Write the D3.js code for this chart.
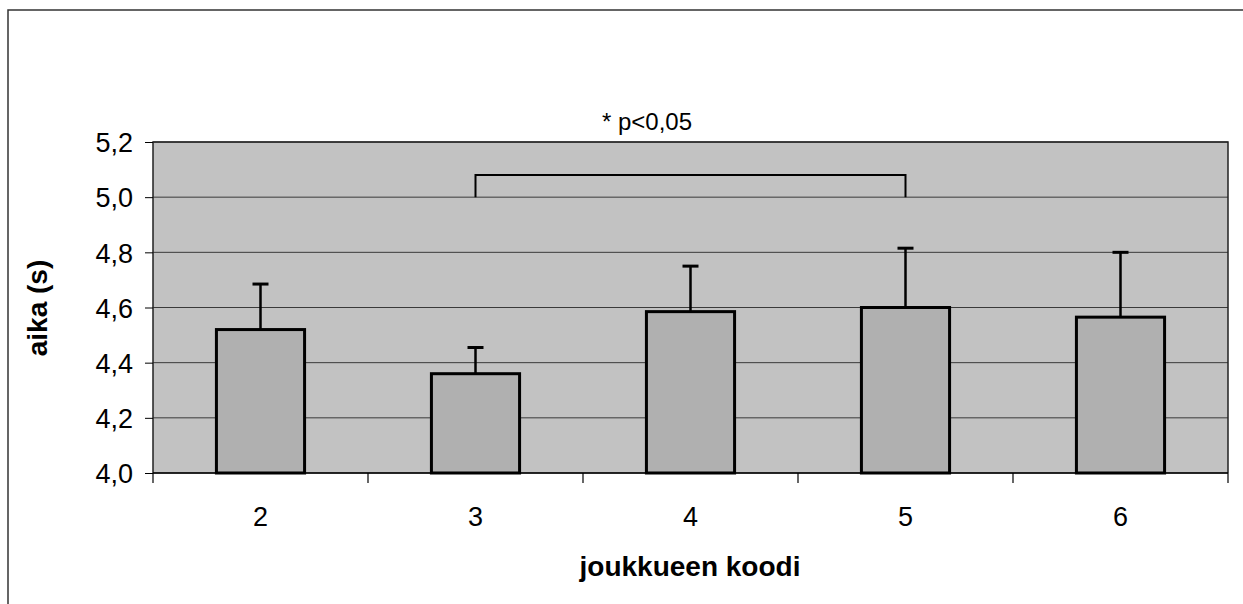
<!DOCTYPE html>
<html>
<head>
<meta charset="utf-8">
<script src="https://cdn.jsdelivr.net/npm/d3@7"></script>
<style>
  body { margin: 0; background: #fff; }
  text { font-family: Arial, "Liberation Sans", sans-serif; fill: #000; }
</style>
</head>
<body>
<svg id="chart" width="1243" height="604"></svg>
<script>
"use strict";
// data
const categories = ["2", "3", "4", "5", "6"];
const means = [4.52, 4.36, 4.585, 4.60, 4.565];
const errors = [0.165, 0.095, 0.165, 0.215, 0.235];
const yTicks = [4.0, 4.2, 4.4, 4.6, 4.8, 5.0, 5.2];
const bracketFrom = "3", bracketTo = "5", bracketLevel = 5.08, bracketFoot = 5.0;
const noteText = "* p<0,05";

const svg = d3.select("#chart");
const m = { left: 153, right: 1228, top: 142, bottom: 473 };

// outer frame (left and top edges are what shows)
svg.append("path")
    .attr("d", "M8,604V10H1243")
    .attr("fill", "none").attr("stroke", "#333").attr("stroke-width", 1.5);

const x = d3.scaleBand()
    .domain(categories)
    .range([m.left, m.right])
    .paddingInner(0.59)
    .paddingOuter(0.295);
const y = d3.scaleLinear().domain([4.0, 5.2]).range([m.bottom, m.top]);
const fmt = (v) => d3.format(".1f")(v).replace(".", ",");

// plot area
svg.append("rect")
    .attr("x", m.left).attr("y", m.top)
    .attr("width", m.right - m.left).attr("height", m.bottom - m.top)
    .attr("fill", "#c2c2c2");

svg.append("g")
    .selectAll("line")
    .data(yTicks)
    .join("line")
    .attr("x1", m.left).attr("x2", m.right)
    .attr("y1", (d) => y(d)).attr("y2", (d) => y(d))
    .attr("stroke", "#3a3a3a").attr("stroke-width", 1);

// plot border (left, top, right)
svg.append("path")
    .attr("d", `M${m.left},${m.bottom}V${m.top}H${m.right}V${m.bottom}`)
    .attr("fill", "none").attr("stroke", "#222").attr("stroke-width", 1.5);

// y axis
const yAxis = svg.append("g")
    .attr("transform", `translate(${m.left},0)`)
    .call(d3.axisLeft(y).tickValues(yTicks).tickFormat(fmt).tickSize(8).tickPadding(12));
yAxis.select(".domain").remove();
yAxis.selectAll("text").style("font-size", "27px").attr("dy", "0.36em");

// x axis with ticks at category boundaries
const step = x.step();
const boundaries = d3.range(categories.length + 1).map((i) => m.left + i * step);
svg.append("line")
    .attr("x1", m.left).attr("x2", m.right)
    .attr("y1", m.bottom).attr("y2", m.bottom)
    .attr("stroke", "#000").attr("stroke-width", 1.5);
svg.append("g")
    .selectAll("line")
    .data(boundaries)
    .join("line")
    .attr("x1", (d) => d).attr("x2", (d) => d)
    .attr("y1", m.bottom).attr("y2", m.bottom + 10)
    .attr("stroke", "#000").attr("stroke-width", 1.2);
svg.append("g")
    .selectAll("text")
    .data(categories)
    .join("text")
    .attr("x", (d) => x(d) + x.bandwidth() / 2)
    .attr("y", 526)
    .attr("text-anchor", "middle")
    .style("font-size", "27px")
    .text((d) => d);

// error bars (upper only)
const errG = svg.append("g");
categories.forEach((c, i) => {
    const cx = x(c) + x.bandwidth() / 2;
    errG.append("line")
        .attr("x1", cx).attr("x2", cx)
        .attr("y1", y(means[i])).attr("y2", y(means[i] + errors[i]))
        .attr("stroke", "#000").attr("stroke-width", 2.5);
    errG.append("line")
        .attr("x1", cx - 8).attr("x2", cx + 8)
        .attr("y1", y(means[i] + errors[i])).attr("y2", y(means[i] + errors[i]))
        .attr("stroke", "#000").attr("stroke-width", 3);
});

// bars
svg.append("g")
    .selectAll("rect")
    .data(categories)
    .join("rect")
    .attr("x", (d) => x(d))
    .attr("y", (d, i) => y(means[i]))
    .attr("width", x.bandwidth())
    .attr("height", (d, i) => y(4.0) - y(means[i]))
    .attr("fill", "#b0b0b0")
    .attr("stroke", "#000")
    .attr("stroke-width", 3);

// significance bracket
const bx1 = x(bracketFrom) + x.bandwidth() / 2;
const bx2 = x(bracketTo) + x.bandwidth() / 2;
svg.append("path")
    .attr("d", `M${bx1},${y(bracketFoot)}V${y(bracketLevel)}H${bx2}V${y(bracketFoot)}`)
    .attr("fill", "none").attr("stroke", "#000").attr("stroke-width", 2);

svg.append("text")
    .attr("x", 647).attr("y", 130)
    .attr("text-anchor", "middle")
    .style("font-size", "24px")
    .text(noteText);

// axis titles
svg.append("text")
    .attr("transform", "translate(47,308) rotate(-90)")
    .attr("text-anchor", "middle")
    .style("font-size", "28px").style("font-weight", "bold")
    .text("aika (s)");
svg.append("text")
    .attr("x", 690).attr("y", 576)
    .attr("text-anchor", "middle")
    .style("font-size", "28px").style("font-weight", "bold")
    .text("joukkueen koodi");
</script>
</body>
</html>
